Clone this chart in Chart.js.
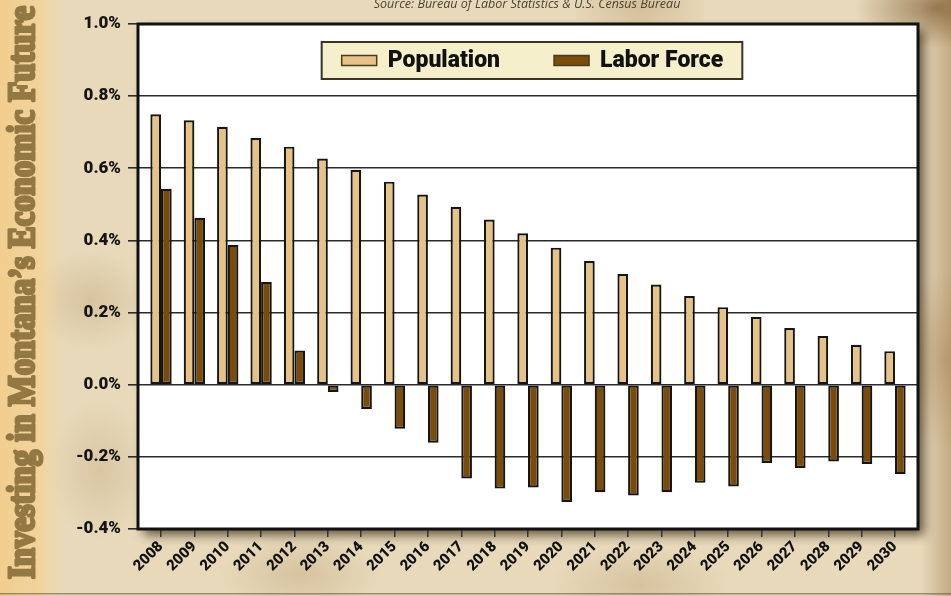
<!DOCTYPE html>
<html>
<head>
<meta charset="utf-8">
<title>Montana Population and Labor Force Growth</title>
<script src="https://cdn.jsdelivr.net/npm/chart.js@4.4.1/dist/chart.umd.min.js"></script>
<style>
    html, body { margin: 0; padding: 0; }
    body {
        width: 951px;
        height: 596px;
        overflow: hidden;
        background-color: #e7d9ba;
        background-image:
            radial-gradient(ellipse 80px 40px at 935px 8px, rgba(110, 72, 28, 0.6), rgba(110, 72, 28, 0) 100%),
            linear-gradient(to left, rgba(140, 100, 50, 0.4) 0px, rgba(140, 100, 50, 0) 30px),
            radial-gradient(ellipse 70px 40px at 640px 8px, rgba(170, 130, 75, 0.3), rgba(170, 130, 75, 0) 100%),
            radial-gradient(ellipse 60px 50px at 90px 300px, rgba(175, 140, 90, 0.28), rgba(175, 140, 90, 0) 100%),
            radial-gradient(ellipse 50px 70px at 100px 470px, rgba(175, 140, 90, 0.25), rgba(175, 140, 90, 0) 100%),
            radial-gradient(ellipse 80px 40px at 300px 575px, rgba(170, 135, 85, 0.28), rgba(170, 135, 85, 0) 100%),
            radial-gradient(ellipse 90px 40px at 640px 585px, rgba(170, 135, 85, 0.28), rgba(170, 135, 85, 0) 100%),
            radial-gradient(ellipse 50px 90px at 945px 360px, rgba(150, 110, 60, 0.3), rgba(150, 110, 60, 0) 100%);
    }
    #wrap { position: relative; width: 951px; height: 596px; }
</style>
</head>
<body>
<div id="wrap"><canvas id="growthChart"></canvas></div>
<script>
// Annual growth rates, percent
const years = ['2008', '2009', '2010', '2011', '2012', '2013', '2014', '2015', '2016', '2017', '2018', '2019',
    '2020', '2021', '2022', '2023', '2024', '2025', '2026', '2027', '2028', '2029', '2030'];
const populationGrowth = [0.750, 0.733, 0.715, 0.684, 0.660, 0.627, 0.596, 0.563, 0.527, 0.493, 0.458, 0.420,
    0.380, 0.343, 0.307, 0.278, 0.246, 0.215, 0.188, 0.157, 0.135, 0.111, 0.093];
const laborForceGrowth = [0.543, 0.463, 0.388, 0.285, 0.095, -0.020, -0.067, -0.122, -0.161, -0.260, -0.288, -0.285,
    -0.325, -0.298, -0.307, -0.298, -0.272, -0.282, -0.217, -0.231, -0.213, -0.220, -0.248];
const yTickValues = [-0.4, -0.2, 0.0, 0.2, 0.4, 0.6, 0.8, 1.0];

const sideTitle = 'Investing in Montana\u2019s Economic Future';
const sourceNote = 'Source: Bureau of Labor Statistics & U.S. Census Bureau';

const heavyFont = "Roboto, 'Open Sans', sans-serif";

// Background strip, source line and the white plot panel with its shadow
const pageDecor = {
    id: 'pageDecor',
    beforeDraw(chart) {
        const ctx = chart.ctx;
        const area = chart.chartArea;
        ctx.save();

        // left title strip
        const strip = ctx.createLinearGradient(0, 0, 62, 0);
        strip.addColorStop(0, 'rgba(242, 205, 140, 0.95)');
        strip.addColorStop(0.65, 'rgba(242, 210, 150, 0.85)');
        strip.addColorStop(1, 'rgba(242, 215, 160, 0)');
        ctx.fillStyle = strip;
        ctx.fillRect(0, 0, 62, chart.height);

        ctx.save();
        ctx.translate(34, 579);
        ctx.rotate(-Math.PI / 2);
        ctx.font = "bold 38px 'Liberation Serif', 'DejaVu Serif', serif";
        const w = ctx.measureText(sideTitle).width;
        ctx.scale(573 / w, 1);
        ctx.fillStyle = '#927843';
        ctx.strokeStyle = '#927843';
        ctx.lineWidth = 3;
        ctx.lineJoin = 'round';
        ctx.textBaseline = 'alphabetic';
        ctx.strokeText(sideTitle, 0, 0);
        ctx.fillText(sideTitle, 0, 0);
        ctx.restore();

        // source line, clipped at the top edge
        ctx.font = "italic 12.5px 'Open Sans', sans-serif";
        ctx.fillStyle = '#4a4234';
        ctx.textAlign = 'center';
        ctx.textBaseline = 'alphabetic';
        ctx.fillText(sourceNote, 527, 8);

        // thin edge along the bottom of the page
        ctx.fillStyle = 'rgba(90, 80, 65, 0.55)';
        ctx.fillRect(0, chart.height - 3, chart.width, 1.5);

        // plot panel
        ctx.shadowColor = 'rgba(45, 28, 5, 0.7)';
        ctx.shadowBlur = 10;
        ctx.shadowOffsetX = 6;
        ctx.shadowOffsetY = 6;
        ctx.fillStyle = '#ffffff';
        ctx.fillRect(area.left, area.top, area.right - area.left, area.bottom - area.top);
        ctx.restore();
    },
    afterDatasetsDraw(chart) {
        const ctx = chart.ctx;
        const area = chart.chartArea;
        ctx.save();
        ctx.strokeStyle = '#111111';
        ctx.lineWidth = 3;
        ctx.strokeRect(area.left, area.top, area.right - area.left, area.bottom - area.top);
        ctx.restore();
    }
};

// Legend box drawn inside the plot, near the top
const insideLegend = {
    id: 'insideLegend',
    afterDatasetsDraw(chart) {
        const ctx = chart.ctx;
        const area = chart.chartArea;
        const sets = chart.data.datasets;
        ctx.save();
        ctx.font = '900 23px ' + heavyFont;
        const swW = 35, swH = 10, padL = 20, padR = 19, gapText = 11, gapItem = 54;
        let total = padL + padR;
        sets.forEach((ds, i) => {
            total += swW + gapText + ctx.measureText(ds.label).width;
            if (i < sets.length - 1) total += gapItem;
        });
        const boxH = 37;
        const boxX = (area.left + area.right) / 2 - total / 2 + 4;
        const boxY = area.top + 18;
        ctx.fillStyle = '#f6efcc';
        ctx.fillRect(boxX, boxY, total, boxH);
        ctx.strokeStyle = '#3a3328';
        ctx.lineWidth = 2;
        ctx.strokeRect(boxX, boxY, total, boxH);

        const cy = boxY + boxH / 2;
        let x = boxX + padL;
        sets.forEach(ds => {
            ctx.fillStyle = ds.backgroundColor;
            ctx.fillRect(x, cy - swH / 2, swW, swH);
            ctx.strokeStyle = '#4a3a22';
            ctx.lineWidth = 1.5;
            ctx.strokeRect(x, cy - swH / 2, swW, swH);
            x += swW + gapText;
            ctx.fillStyle = '#111111';
            ctx.textBaseline = 'middle';
            ctx.textAlign = 'left';
            ctx.fillText(ds.label, x, cy + 1);
            x += ctx.measureText(ds.label).width + gapItem;
        });
        ctx.restore();
    }
};

const ctx = document.getElementById('growthChart').getContext('2d');
const growthChart = new Chart(ctx, {
    type: 'bar',
    data: {
        labels: years,
        datasets: [{
            label: 'Population',
            data: populationGrowth,
            backgroundColor: '#e6c287',
            borderColor: '#151515',
            borderWidth: 2.2,
            borderSkipped: false
        }, {
            label: 'Labor Force',
            data: laborForceGrowth,
            backgroundColor: '#7a4c0c',
            borderColor: '#151515',
            borderWidth: 2.2,
            borderSkipped: false
        }]
    },
    options: {
        responsive: true,
        maintainAspectRatio: false,
        animation: false,
        layout: {
            padding: { left: 0, top: 24, right: 33, bottom: 0 }
        },
        datasets: {
            bar: { categoryPercentage: 0.64, barPercentage: 1.0 }
        },
        scales: {
            x: {
                offset: true,
                afterBuildTicks: function(scale) {
                    // a little extra room before the first and after the last year
                    scale._startValue -= 0.19;
                    scale._valueRange += 0.38;
                },
                afterFit: function(scale) { scale.height = 67; },
                border: { display: false },
                grid: {
                    offset: false,
                    drawOnChartArea: false,
                    drawTicks: true,
                    tickLength: 8,
                    color: '#333333',
                    lineWidth: 1.5
                },
                ticks: {
                    autoSkip: false,
                    maxRotation: 45,
                    minRotation: 45,
                    padding: 1,
                    color: '#111111',
                    font: { family: heavyFont, size: 15, weight: '900' }
                }
            },
            y: {
                min: -0.4,
                max: 1.0,
                afterBuildTicks: function(scale) {
                    scale.ticks = yTickValues.map(v => ({ value: v }));
                },
                afterFit: function(scale) { scale.width = 138; },
                border: { display: false },
                grid: {
                    color: '#2a2a2a',
                    lineWidth: 1.6,
                    drawTicks: true,
                    tickLength: 10
                },
                ticks: {
                    padding: 7,
                    color: '#151515',
                    font: { family: heavyFont, size: 17, weight: '900' },
                    callback: function(value) {
                        return value.toFixed(1) + '%';
                    }
                }
            }
        },
        plugins: {
            legend: { display: false },
            tooltip: { enabled: false }
        }
    },
    plugins: [pageDecor, insideLegend]
});
</script>
</body>
</html>
